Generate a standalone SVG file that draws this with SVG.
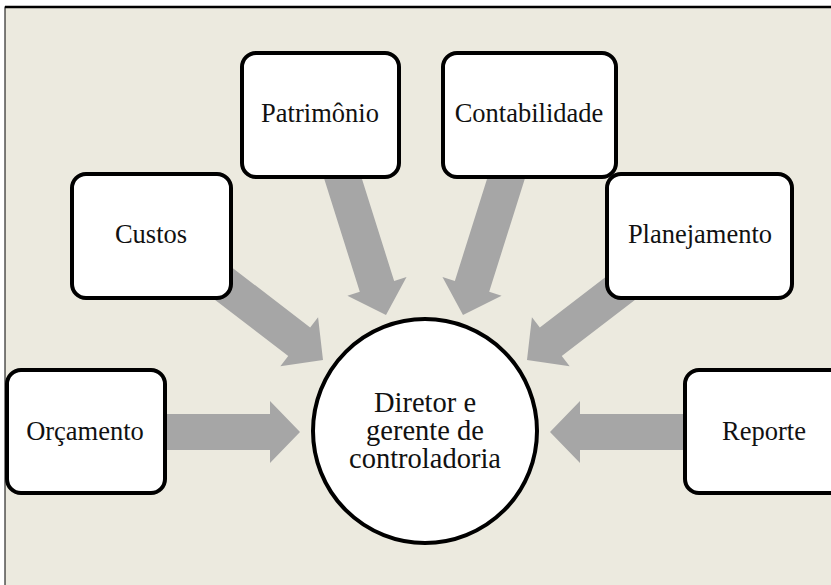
<svg xmlns="http://www.w3.org/2000/svg" width="831" height="585" viewBox="0 0 831 585">
  <style>
    .box { fill: #FFFFFF; stroke: #000000; stroke-width: 4; }
    .arrow { fill: #A6A6A6; stroke: none; }
    .label { font-family: "Liberation Serif", "Times New Roman", serif; font-size: 26.5px; fill: #111111; text-anchor: middle; }
    .center { font-family: "Liberation Serif", "Times New Roman", serif; font-size: 28.5px; fill: #111111; text-anchor: middle; }
  </style>
  <rect x="0" y="0" width="831" height="585" fill="#FFFFFF"/>
  <rect x="5" y="7" width="840" height="590" fill="#ECEADF" stroke="#000000" stroke-width="1"/>
  <line x1="5" y1="7" x2="831" y2="7" stroke="#000000" stroke-width="2.5"/>

  <g id="connectors">
    <polygon class="arrow" transform="translate(300,432)" points="0,0 -30,-31 -30,-18 -140,-18 -140,18 -30,18 -30,31"/>
    <polygon class="arrow" transform="translate(550,432) rotate(180)" points="0,0 -30,-31 -30,-18 -145,-18 -145,18 -30,18 -30,31"/>
    <polygon class="arrow" transform="translate(323,360) rotate(37.5)" points="0,0 -30,-31 -30,-18 -160,-18 -160,18 -30,18 -30,31"/>
    <polygon class="arrow" transform="translate(527,360) rotate(142.5)" points="0,0 -30,-31 -30,-18 -160,-18 -160,18 -30,18 -30,31"/>
    <polygon class="arrow" transform="translate(386,315) rotate(72.5)" points="0,0 -30,-31 -30,-18 -165,-18 -165,18 -30,18 -30,31"/>
    <polygon class="arrow" transform="translate(463,315) rotate(107.5)" points="0,0 -30,-31 -30,-18 -165,-18 -165,18 -30,18 -30,31"/>
  </g>

  <g id="patrimonio">
    <rect class="box" x="242" y="53" width="157" height="124" rx="14"/>
    <text class="label" x="320" y="122">Patrimônio</text>
  </g>
  <g id="contabilidade">
    <rect class="box" x="443" y="53" width="173" height="124" rx="14"/>
    <text class="label" x="529" y="122">Contabilidade</text>
  </g>
  <g id="custos">
    <rect class="box" x="72" y="174" width="159" height="124" rx="14"/>
    <text class="label" x="151" y="243">Custos</text>
  </g>
  <g id="planejamento">
    <rect class="box" x="607" y="174" width="185" height="124" rx="14"/>
    <text class="label" x="700" y="243">Planejamento</text>
  </g>
  <g id="orcamento">
    <rect class="box" x="7" y="370" width="158" height="123" rx="14"/>
    <text class="label" x="85" y="440">Orçamento</text>
  </g>
  <g id="reporte">
    <rect class="box" x="685" y="370" width="160" height="123" rx="14"/>
    <text class="label" x="764" y="440">Reporte</text>
  </g>
  <g id="diretor">
    <circle class="box" cx="425" cy="431" r="112"/>
    <text class="center" x="425" y="412">Diretor e</text>
    <text class="center" x="425" y="440">gerente de</text>
    <text class="center" x="425" y="468">controladoria</text>
  </g>
</svg>
